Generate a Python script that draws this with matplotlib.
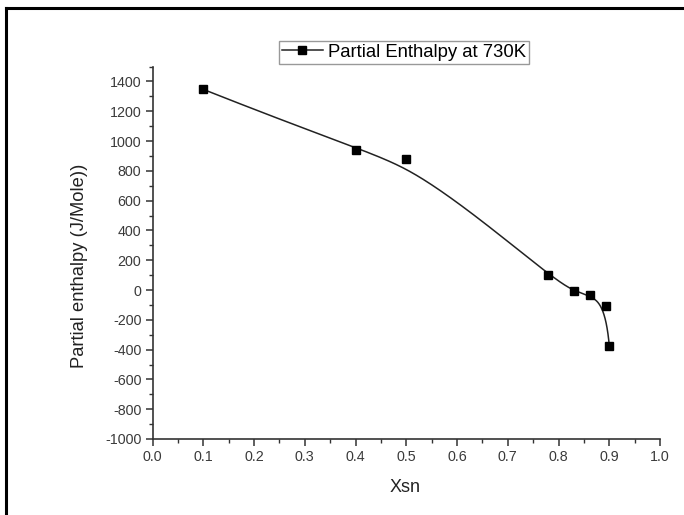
import matplotlib.pyplot as plt
import numpy as np
from matplotlib.lines import Line2D

plt.rcParams['font.family'] = ['Liberation Sans', 'DejaVu Sans']
plt.rcParams['axes.unicode_minus'] = False

xsn = [0.1, 0.4, 0.5, 0.78, 0.83, 0.862, 0.893, 0.9]
h_partial = [1347, 943, 882, 101, -9, -34, -110, -375]
series_name = 'Partial Enthalpy at 730K'


def bspline(px, py, deg=3, num=400):
    # clamped uniform B-spline using the points as control points
    n = len(px)
    knots = np.concatenate([np.zeros(deg + 1), np.arange(1, n - deg),
                            np.full(deg + 1, n - deg)]).astype(float)
    t = np.linspace(0, n - deg, num)
    t[-1] -= 1e-9
    N = np.array([((knots[i] <= t) & (t < knots[i + 1])).astype(float)
                  for i in range(len(knots) - 1)])
    for k in range(1, deg + 1):
        Nk = np.zeros((len(knots) - 1 - k, num))
        for i in range(len(knots) - 1 - k):
            d1 = knots[i + k] - knots[i]
            d2 = knots[i + k + 1] - knots[i + 1]
            if d1 > 0:
                Nk[i] += (t - knots[i]) / d1 * N[i]
            if d2 > 0:
                Nk[i] += (knots[i + k + 1] - t) / d2 * N[i + 1]
        N = Nk
    return N.T @ np.asarray(px, float), N.T @ np.asarray(py, float)


fig = plt.figure(figsize=(6.84, 5.15), dpi=100)
ax = fig.add_axes([0.223, 0.1476, 0.742, 0.7231])

sx, sy = bspline(xsn, h_partial)
ax.plot(sx, sy, color='#222222', lw=1.1)
ax.plot(xsn, h_partial, ls='none', marker='s', ms=6, color='black')

ax.set_xlim(0, 1)
ax.set_ylim(-1000, 1500)
ax.set_xticks(np.arange(0, 1.01, 0.1))
ax.set_xticks(np.arange(0.05, 1.0, 0.1), minor=True)
ax.set_yticks(np.arange(-1000, 1401, 200))
ax.set_yticks(np.arange(-900, 1501, 200), minor=True)
ax.xaxis.set_major_formatter(plt.FormatStrFormatter('%.1f'))

for s in ['top', 'right']:
    ax.spines[s].set_visible(False)
for s in ['left', 'bottom']:
    ax.spines[s].set_linewidth(1.2)
    ax.spines[s].set_color('#333333')
ax.tick_params(which='major', direction='out', length=5, width=1.1,
               color='#333333', labelsize=10.3, labelcolor='#3a3a3a', pad=3)
ax.tick_params(which='minor', direction='out', length=3, width=1.0,
               color='#333333')

ax.set_xlabel('Xsn', fontsize=13, color='#222222')
ax.xaxis.set_label_coords(0.4975, -0.108)
ax.xaxis.label.set_va('top')
ax.set_ylabel('Partial enthalpy (J/Mole))', fontsize=13.2, color='#222222')
ax.yaxis.set_label_coords(-0.127, 0.465)

handle = Line2D([], [], color='#222222', lw=1.1, marker='s', ms=6,
                markerfacecolor='black', markeredgecolor='black')
ax.legend([handle], [series_name], loc='upper center',
          bbox_to_anchor=(0.5906, 0.9204), bbox_transform=fig.transFigure,
          fontsize=13.3, fancybox=False, edgecolor='#999999', framealpha=1,
          borderpad=0.15, handlelength=2.2, handletextpad=0.3,
          borderaxespad=0)

# frame edges along the top and left of the figure
fig.add_artist(Line2D([0.0095, 1.0], [0.9845, 0.9845], color='black',
                      lw=2.2, transform=fig.transFigure))
fig.add_artist(Line2D([0.0095, 0.0095], [0.0, 0.9845], color='black',
                      lw=2.2, transform=fig.transFigure))

fig.savefig('out.png', dpi=100)
